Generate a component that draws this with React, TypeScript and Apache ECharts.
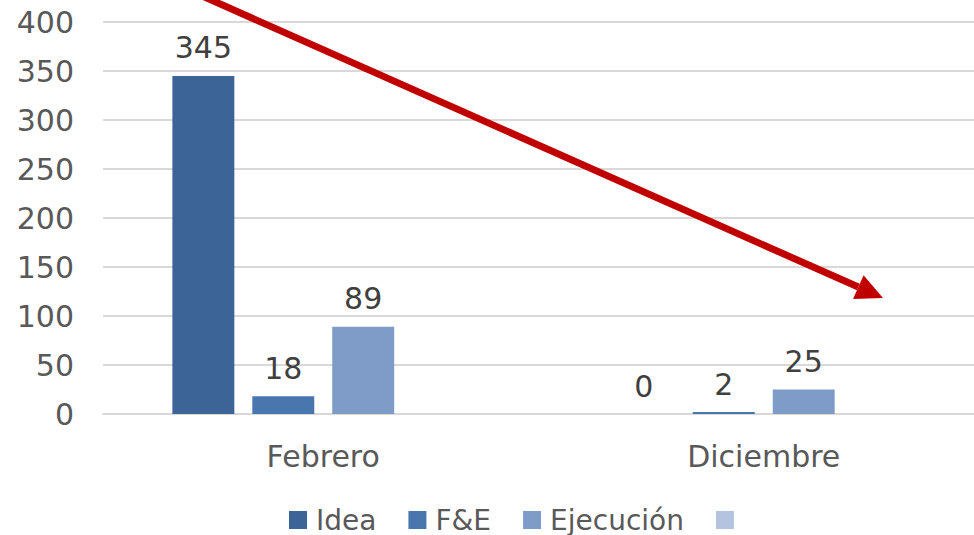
import React, { useEffect, useRef } from "react";
import * as echarts from "echarts";

const categories = ["Febrero", "Diciembre"];
const seriesNames = ["Idea", "F&E", "Ejecución", " "];
const ideaValues = [345, 0];
const feValues = [18, 2];
const ejecucionValues = [89, 25];
const blankValues: (number | null)[] = [null, null];
const yTicks = { min: 0, max: 400, interval: 50 };

const colors = ["#3C6496", "#4A76AE", "#7F9CC8", "#B4C4E0"];
const FONT = "'DejaVu Sans', sans-serif";

export default function App() {
  const ref = useRef<HTMLDivElement>(null);
  useEffect(() => {
    if (!ref.current) return;
    const chart = echarts.init(ref.current, undefined, { renderer: "svg" });
    const allValues = [ideaValues, feValues, ejecucionValues, blankValues];
    const tip = [883, 298];
    const start = [200, -5];
    const dx = tip[0] - start[0];
    const dy = tip[1] - start[1];
    const len = Math.sqrt(dx * dx + dy * dy);
    const ux = dx / len, uy = dy / len;
    const headLen = 27, headHalf = 13;
    const bx = tip[0] - headLen * ux, by = tip[1] - headLen * uy;
    chart.setOption({
      animation: false,
      color: colors,
      textStyle: { fontFamily: FONT },
      grid: { left: 103, top: 22, width: 881, height: 392, containLabel: false, outerBoundsMode: "none" },
      xAxis: {
        type: "category",
        data: categories,
        axisLine: { show: true, lineStyle: { color: "#D9D9D9", width: 2 } },
        axisTick: { show: false },
        axisLabel: { color: "#595959", fontSize: 30, fontFamily: FONT, margin: 27 },
      },
      yAxis: {
        type: "value",
        min: yTicks.min,
        max: yTicks.max,
        interval: yTicks.interval,
        axisLine: { show: false },
        axisTick: { show: false },
        splitLine: { lineStyle: { color: "#D9D9D9", width: 2 } },
        axisLabel: { color: "#595959", fontSize: 30, fontFamily: FONT, margin: 29 },
      },
      legend: {
        top: 501,
        left: 284,
        itemWidth: 18,
        itemHeight: 18,
        itemGap: 32,
        icon: "rect",
        data: seriesNames,
        textStyle: { color: "#595959", fontSize: 28, lineHeight: 28, fontFamily: FONT, padding: [0, 0, 0, 4] },
      },
      series: seriesNames.map((name, i) => ({
        name,
        type: "bar",
        data: allValues[i],
        barGap: "29%",
        barCategoryGap: "31.5%",
        label: {
          show: true,
          position: "top",
          distance: 13,
          color: "#404040",
          fontSize: 30,
          fontFamily: FONT,
        },
      })),
      graphic: [
        {
          type: "line",
          shape: { x1: start[0], y1: start[1], x2: bx, y2: by },
          style: { stroke: "#C00000", lineWidth: 7 },
          z: 100,
        },
        {
          type: "polygon",
          shape: {
            points: [
              [tip[0], tip[1]],
              [bx - uy * headHalf, by + ux * headHalf],
              [bx + uy * headHalf, by - ux * headHalf],
            ],
          },
          style: { fill: "#C00000" },
          z: 100,
        },
      ],
    });
    return () => chart.dispose();
  }, []);
  return <div ref={ref} style={{ width: 974, height: 535, position: "absolute", left: 0, top: 0 }} />;
}
